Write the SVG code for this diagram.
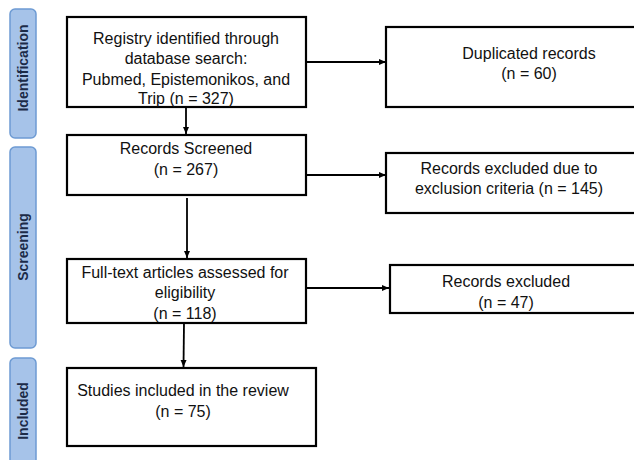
<svg xmlns="http://www.w3.org/2000/svg" width="634" height="460" viewBox="0 0 634 460">
<defs>
<marker id="ah" markerWidth="8" markerHeight="8" refX="7" refY="4" orient="auto" markerUnits="userSpaceOnUse">
<path d="M0,1 L7,4 L0,7 Z" fill="#000"/>
</marker>
<style>
.box{fill:#fff;stroke:#000;stroke-width:2.2}
.lab{fill:#a6c3e9;stroke:#6e9bd3;stroke-width:1.5}
.t{font-family:"Liberation Sans",Arial,sans-serif;font-size:16px;fill:#111;text-anchor:middle}
.lt{font-family:"Liberation Sans",Arial,sans-serif;font-size:14px;font-weight:bold;fill:#1c2b48;text-anchor:middle}
.c{stroke:#000;stroke-width:1.8;fill:none;marker-end:url(#ah)}
</style>
</defs>
<rect width="634" height="460" fill="#fff"/>
<g id="stage-identification">
<rect class="lab" x="10" y="9" width="26" height="129" rx="5"/>
<text class="lt" transform="translate(28,68) rotate(-90)">Identification</text>
</g>
<g id="stage-screening">
<rect class="lab" x="10" y="147" width="26" height="201" rx="5"/>
<text class="lt" transform="translate(28,247) rotate(-90)">Screening</text>
</g>
<g id="stage-included">
<rect class="lab" x="10" y="358" width="26" height="110" rx="5"/>
<text class="lt" transform="translate(28,411) rotate(-90)">Included</text>
</g>
<g id="connectors">
<line class="c" x1="186" y1="107" x2="186" y2="134"/>
<line class="c" x1="306" y1="62" x2="386" y2="62"/>
<line class="c" x1="306" y1="175" x2="386" y2="175"/>
<line class="c" x1="187" y1="198" x2="187" y2="258"/>
<line class="c" x1="306" y1="288" x2="389" y2="288"/>
<line class="c" x1="184" y1="323" x2="183.5" y2="367"/>
</g>
<g id="registry">
<rect class="box" x="67" y="17" width="239" height="90"/>
<text class="t" x="186" y="44">Registry identified through</text>
<text class="t" x="186" y="64">database search:</text>
<text class="t" x="186" y="85">Pubmed, Epistemonikos, and</text>
<text class="t" x="186" y="104">Trip (n = 327)</text>
</g>
<g id="duplicated">
<rect class="box" x="386" y="27" width="260" height="80"/>
<text class="t" x="529" y="59">Duplicated records</text>
<text class="t" x="529" y="79">(n = 60)</text>
</g>
<g id="screened">
<rect class="box" x="67" y="135" width="239" height="60"/>
<text class="t" x="186" y="154">Records Screened</text>
<text class="t" x="186" y="175">(n = 267)</text>
</g>
<g id="excluded-criteria">
<rect class="box" x="386" y="153" width="260" height="60"/>
<text class="t" x="509" y="174">Records excluded due to</text>
<text class="t" x="509" y="194">exclusion criteria (n = 145)</text>
</g>
<g id="fulltext">
<rect class="box" x="67" y="259" width="239" height="64"/>
<text class="t" x="185" y="278">Full-text articles assessed for</text>
<text class="t" x="185" y="298">eligibility</text>
<text class="t" x="185" y="319">(n = 118)</text>
</g>
<g id="excluded">
<rect class="box" x="390" y="265" width="256" height="48"/>
<text class="t" x="506" y="287">Records excluded</text>
<text class="t" x="506" y="308">(n = 47)</text>
</g>
<g id="included">
<rect class="box" x="67" y="368" width="249" height="78"/>
<text class="t" x="183" y="396">Studies included in the review</text>
<text class="t" x="183" y="417">(n = 75)</text>
</g>
</svg>
